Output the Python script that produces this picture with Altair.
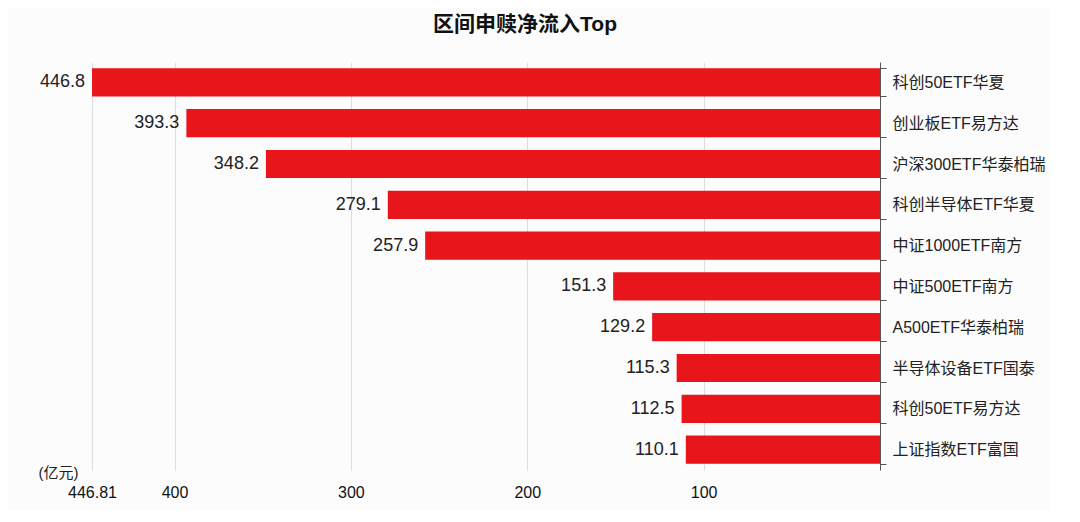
import altair as alt
import pandas as pd

# 区间申赎净流入 (亿元)
funds = [
    "科创50ETF华夏", "创业板ETF易方达", "沪深300ETF华泰柏瑞", "科创半导体ETF华夏",
    "中证1000ETF南方", "中证500ETF南方", "A500ETF华泰柏瑞", "半导体设备ETF国泰",
    "科创50ETF易方达", "上证指数ETF富国",
]
inflow = [446.8, 393.3, 348.2, 279.1, 257.9, 151.3, 129.2, 115.3, 112.5, 110.1]
x_ticks = [446.81, 400, 300, 200, 100]
x_max = 446.81

df = pd.DataFrame({"fund": funds, "inflow": inflow})

FONT = "Liberation Sans, Noto Sans CJK SC"

base = alt.Chart(df).encode(
    y=alt.Y("fund:N", sort=None, title=None,
            scale=alt.Scale(paddingInner=0.31),
            axis=alt.Axis(orient="right", tickBand="extent", tickSize=6,
                          labelPadding=6, labelFontSize=16, labelColor="#222",
                          labelFont=FONT, domainColor="#555", tickColor="#555",
                          grid=False)),
)

bars = base.mark_bar(color="#e8151b").encode(
    x=alt.X("inflow:Q", title="(亿元)",
            scale=alt.Scale(domain=[0, x_max], reverse=True, nice=False, zero=True),
            axis=alt.Axis(values=x_ticks, labelExpr="'' + datum.value",
                          labelFlush=False,
                          domain=False, ticks=False, labelPadding=14,
                          labelFontSize=16, labelColor="#111", labelFont=FONT,
                          gridColor="#dcdcdc", gridWidth=1,
                          titleX=-34, titleY=2, titleAlign="center",
                          titleBaseline="middle", titleFontSize=15,
                          titleFontWeight="normal", titleColor="#222",
                          titleFont=FONT)),
)

labels = base.mark_text(align="right", baseline="middle", dx=-7,
                        fontSize=18, color="#222", font=FONT).encode(
    x=alt.X("inflow:Q"),
    text=alt.Text("inflow:Q", format=".1f"),
)

chart = (bars + labels).properties(
    width=788,
    height=408,
    autosize=alt.AutoSizeParams(type="none"),
    padding={"left": 84, "top": 54, "right": 170, "bottom": 40},
    background="#fcfcfc",
    title=alt.Title("区间申赎净流入Top", fontSize=21, fontWeight="bold",
                    color="#111", font=FONT, anchor="middle", dx=39, offset=19),
).configure_view(stroke=None)

chart.save("out.html", embed_options={"renderer": "svg", "actions": False})
